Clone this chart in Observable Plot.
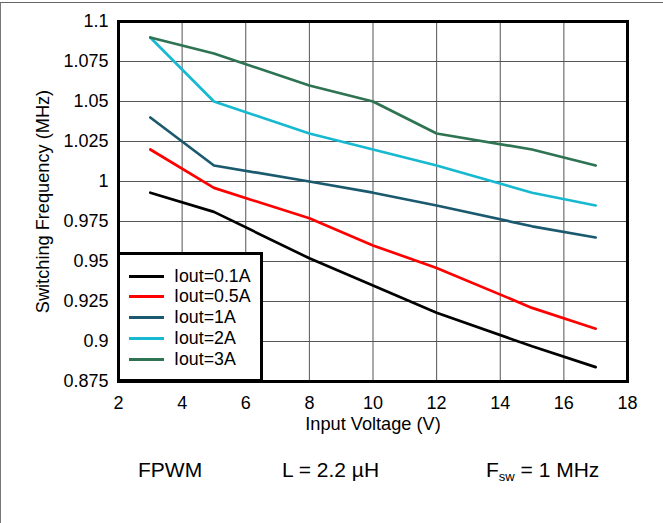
<!DOCTYPE html>
<html>
<head>
<meta charset="utf-8">
<script src="https://cdn.jsdelivr.net/npm/d3@7"></script>
<script src="https://cdn.jsdelivr.net/npm/@observablehq/plot@0.6"></script>
<style>
  html, body { margin: 0; padding: 0; background: #fff; }
  #wrap { position: relative; width: 663px; height: 523px; overflow: hidden; font-family: "Liberation Sans", Arial, Helvetica, sans-serif; }
  #border { position: absolute; left: 0; top: 2px; width: 663px; height: 530px; border-top: 1px solid #666; border-left: 1px solid #777; box-sizing: border-box; pointer-events: none; }
  #chart { position: absolute; left: 0; top: 0; }
  #legend { position: absolute; left: 117px; top: 252px; width: 146px; height: 130px; border: 3px solid #000; box-sizing: border-box; background: #fff; }
  .lrow { position: absolute; left: 0; height: 20px; width: 140px; }
  .lline { position: absolute; left: 9px; top: 8.5px; width: 35px; height: 3px; }
  .ltext { position: absolute; left: 54px; top: 0; font-size: 17.8px; line-height: 20px; color: #000; white-space: nowrap; }
  .note { position: absolute; top: 459px; font-size: 21px; line-height: 21px; color: #000; white-space: nowrap; }
  .note sub { font-size: 13px; vertical-align: -4px; line-height: 0; }
</style>
</head>
<body>
<div id="wrap">
  <div id="chart"></div>
  <div id="legend"></div>
  <div id="notes"></div>
  <div id="border"></div>
</div>
<script>
// ---- data ----
const vin = [3, 5, 8, 10, 12, 15, 17];
const iout01 = [0.993, 0.981, 0.952, 0.935, 0.918, 0.897, 0.884];
const iout05 = [1.020, 0.996, 0.977, 0.960, 0.946, 0.921, 0.908];
const iout1  = [1.040, 1.010, 1.000, 0.993, 0.985, 0.972, 0.965];
const iout2  = [1.090, 1.050, 1.030, 1.020, 1.010, 0.993, 0.985];
const iout3  = [1.090, 1.080, 1.060, 1.050, 1.030, 1.020, 1.010];
const seriesNames = ["Iout=0.1A", "Iout=0.5A", "Iout=1A", "Iout=2A", "Iout=3A"];
const seriesColors = ["#000000", "#ff0000", "#1b5a6e", "#17b9d1", "#2e7352"];
const xTicks = [2, 4, 6, 8, 10, 12, 14, 16, 18];
const yTicks = [0.875, 0.9, 0.925, 0.95, 0.975, 1, 1.025, 1.05, 1.075, 1.1];
const yTickLabels = ["0.875", "0.9", "0.925", "0.95", "0.975", "1", "1.025", "1.05", "1.075", "1.1"];
const xLabel = "Input Voltage (V)";
const yLabel = "Switching Frequency (MHz)";
const notes = ["FPWM", "L = 2.2 µH", "F<sub>sw</sub> = 1 MHz"];

// ---- build table ----
const allSeries = [iout01, iout05, iout1, iout2, iout3];
const rows = [];
allSeries.forEach((vals, si) => vals.forEach((v, i) => rows.push({series: seriesNames[si], x: vin[i], y: v})));

const font = "'Liberation Sans', Arial, Helvetica, sans-serif";
const chart = Plot.plot({
  width: 663,
  height: 440,
  marginLeft: 118,
  marginRight: 36,
  marginTop: 21,
  marginBottom: 59,
  style: {fontFamily: font, fontSize: "18px", color: "#000", background: "transparent"},
  x: {domain: [2, 18]},
  y: {domain: [0.875, 1.1]},
  color: {domain: seriesNames, range: seriesColors},
  marks: [
    Plot.gridX(xTicks.slice(1, -1), {stroke: "#555", strokeOpacity: 1, strokeWidth: 1}),
    Plot.gridY(yTicks.slice(1, -1), {stroke: "#555", strokeOpacity: 1, strokeWidth: 1}),
    Plot.line(rows, {x: "x", y: "y", z: "series", stroke: "series", strokeWidth: 2.7, strokeLinejoin: "round"}),
    Plot.frame({stroke: "#000", strokeWidth: 3}),
    Plot.axisX(xTicks, {tickSize: 0, tickPadding: 15, label: null, fontSize: 18}),
    Plot.axisY(yTicks, {tickSize: 0, tickPadding: 10, label: null, fontSize: 18, tickFormat: (d) => yTickLabels[yTicks.indexOf(d)]}),
    Plot.text([xLabel], {frameAnchor: "bottom", dy: 43, lineAnchor: "middle", textAnchor: "middle", fontSize: 18.2, fill: "#000"}),
    Plot.text([yLabel], {frameAnchor: "left", dx: -75, rotate: -90, textAnchor: "middle", lineAnchor: "middle", fontSize: 18.2, fill: "#000"})
  ]
});
document.getElementById("chart").appendChild(chart);

// ---- legend ----
const legend = document.getElementById("legend");
const rowTops = [11, 31, 52, 73, 94];
seriesNames.forEach((name, i) => {
  const r = document.createElement("div");
  r.className = "lrow";
  r.style.top = rowTops[i] + "px";
  r.innerHTML = `<div class="lline" style="background:${seriesColors[i]}"></div><div class="ltext">${name}</div>`;
  legend.appendChild(r);
});

// ---- notes ----
const notesEl = document.getElementById("notes");
const noteLefts = [138, 282, 486];
notes.forEach((t, i) => {
  const d = document.createElement("div");
  d.className = "note";
  d.style.left = noteLefts[i] + "px";
  d.innerHTML = t;
  notesEl.appendChild(d);
});
</script>
</body>
</html>
